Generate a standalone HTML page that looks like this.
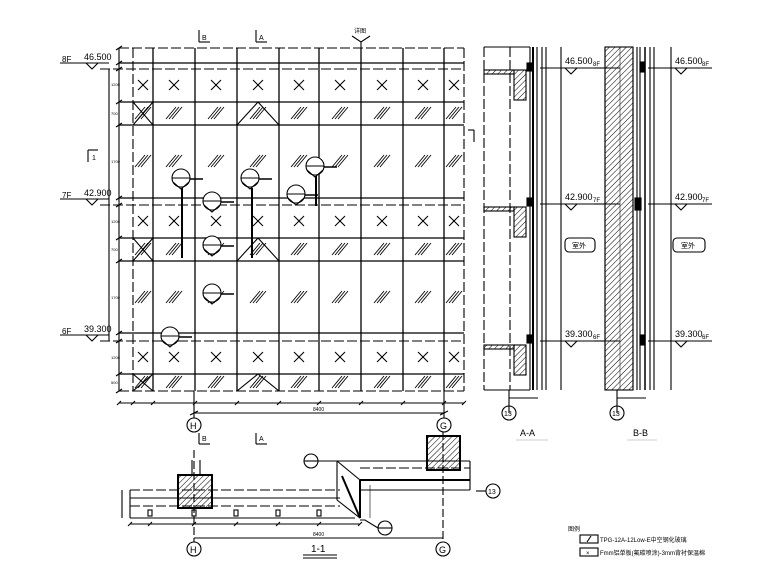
<!DOCTYPE html>
<html><head><meta charset="utf-8"><style>
html,body{margin:0;padding:0;background:#fff;}
svg{display:block;}
text{font-family:"Liberation Sans","Noto Sans CJK SC",sans-serif;fill:#000;}
</style></head><body>
<svg id="s" width="780" height="586" viewBox="0 0 780 586" xmlns="http://www.w3.org/2000/svg" stroke="#000" fill="none" stroke-width="1.1">
<defs>
<pattern id="h" width="4" height="4" patternUnits="userSpaceOnUse" patternTransform="rotate(45)"><line x1="0" y1="0" x2="0" y2="4" stroke="#000" stroke-width="1"/></pattern>
</defs>
<g id="main">
<line x1="119" y1="48" x2="464" y2="48" stroke-dasharray="10,3"/>
<line x1="133" y1="48" x2="133" y2="391" stroke-dasharray="10,3"/>
<line x1="464" y1="48" x2="464" y2="391" stroke-dasharray="10,3"/>
<line x1="119" y1="48" x2="119" y2="391"/>
<line x1="109" y1="69" x2="109" y2="341"/>
<g stroke-dasharray="10,3">
<line x1="100" y1="69" x2="464" y2="69"/>
<line x1="100" y1="205" x2="464" y2="205"/>
<line x1="100" y1="341" x2="464" y2="341"/>
<line x1="119" y1="391" x2="464" y2="391"/>
</g>
</g>
<g id="dyn"></g>
<g>
<line x1="60" y1="63" x2="109" y2="63"/><path d="M86 63 L92 69 L98 63"/>
<line x1="60" y1="199" x2="109" y2="199"/><path d="M86 199 L92 205 L98 199"/>
<line x1="60" y1="335" x2="109" y2="335"/><path d="M86 335 L92 341 L98 335"/>
</g>
<g font-size="8" stroke="none">
<text x="62" y="62">8F</text><text x="84" y="60" font-size="9">46.500</text>
<text x="62" y="198">7F</text><text x="84" y="196" font-size="9">42.900</text>
<text x="62" y="334">6F</text><text x="84" y="332" font-size="9">39.300</text>
</g>
<g font-size="4" stroke="none">
<text x="111" y="86">1200</text><text x="111" y="115">700</text><text x="111" y="163">1700</text>
<text x="111" y="223">1200</text><text x="111" y="251">700</text><text x="111" y="299">1700</text>
<text x="111" y="359">1200</text><text x="111" y="384">500</text>
</g>
<line x1="199" y1="30" x2="199" y2="42"/><line x1="199" y1="42" x2="210" y2="42"/>
<text x="202" y="40" font-size="7" stroke="none">B</text>
<line x1="256" y1="30" x2="256" y2="42"/><line x1="256" y1="42" x2="267" y2="42"/>
<text x="259" y="40" font-size="7" stroke="none">A</text>
<path d="M352 36 L361 42 L370 36"/><line x1="361" y1="42" x2="361" y2="48"/>
<text x="354" y="33" font-size="6" stroke="none">详图</text>
<line x1="88" y1="150" x2="88" y2="162"/><line x1="88" y1="150" x2="98" y2="150"/>
<text x="92" y="160" font-size="7" stroke="none">1</text>
<line x1="474" y1="130" x2="474" y2="142"/><line x1="468" y1="130" x2="474" y2="130"/>
<g id="call"></g>
<g stroke-width="2">
<line x1="182" y1="188" x2="182" y2="258"/>
<line x1="252" y1="188" x2="252" y2="258"/>
<line x1="316" y1="176" x2="316" y2="206"/>
</g>
<line x1="119" y1="403" x2="464" y2="403"/>
<line x1="194" y1="413" x2="444" y2="413"/>
<line x1="194" y1="391" x2="194" y2="418"/>
<line x1="444" y1="391" x2="444" y2="418"/>
<circle cx="194" cy="425" r="7"/><text x="190" y="429" font-size="9" stroke="none">H</text>
<circle cx="444" cy="425" r="7"/><text x="440" y="429" font-size="9" stroke="none">G</text>
<text x="313" y="411" font-size="5" stroke="none">8400</text>
<line x1="199" y1="433" x2="199" y2="444"/><line x1="199" y1="444" x2="210" y2="444"/>
<text x="202" y="441" font-size="7" stroke="none">B</text>
<line x1="256" y1="433" x2="256" y2="444"/><line x1="256" y1="444" x2="267" y2="444"/>
<text x="259" y="441" font-size="7" stroke="none">A</text>

<g>
<line x1="484" y1="47" x2="484" y2="390" stroke-dasharray="10,3"/>
<line x1="510" y1="47" x2="510" y2="390" stroke-dasharray="10,3"/>
<line x1="484" y1="47" x2="530" y2="47"/>
<line x1="484" y1="390" x2="530" y2="390"/>
<rect x="514" y="70" width="12" height="30" fill="url(#h)"/>
<rect x="484" y="70" width="30" height="4" fill="url(#h)"/>
<rect x="514" y="207" width="12" height="30" fill="url(#h)"/>
<rect x="484" y="207" width="30" height="4" fill="url(#h)"/>
<rect x="514" y="345" width="12" height="30" fill="url(#h)"/>
<rect x="484" y="345" width="30" height="4" fill="url(#h)"/>
<line x1="530" y1="47" x2="530" y2="390"/>
<line x1="533" y1="47" x2="533" y2="390" stroke-width="2"/>
<line x1="537" y1="47" x2="537" y2="390"/>
<rect x="527" y="63" width="6" height="8" fill="#000"/>
<rect x="527" y="198" width="6" height="8" fill="#000"/>
<rect x="527" y="335" width="6" height="8" fill="#000"/>
<line x1="542" y1="47" x2="542" y2="390"/>
<line x1="546" y1="47" x2="546" y2="390"/>
<line x1="561" y1="47" x2="561" y2="390"/>
<line x1="509" y1="413" x2="509" y2="390"/>
<line x1="509" y1="398" x2="538" y2="398"/>
<circle cx="509" cy="413" r="7"/><text x="504" y="416" font-size="7" stroke="none">13</text>
<text x="520" y="436" font-size="9" stroke="none">A-A</text>
<line x1="516" y1="440" x2="548" y2="440" stroke="#ccc"/>
<line x1="540" y1="68" x2="620" y2="68"/>
<line x1="540" y1="204" x2="620" y2="204"/>
<line x1="540" y1="341" x2="620" y2="341"/>
<path d="M565 68 L571 74 L577 68"/><path d="M565 204 L571 210 L577 204"/><path d="M565 341 L571 347 L577 341"/>
<text x="565" y="64" font-size="9" stroke="none">46.500</text><text x="593" y="66" font-size="6" stroke="none">8F</text>
<text x="565" y="200" font-size="9" stroke="none">42.900</text><text x="593" y="202" font-size="6" stroke="none">7F</text>
<text x="565" y="337" font-size="9" stroke="none">39.300</text><text x="593" y="339" font-size="6" stroke="none">6F</text>
<rect x="565" y="238" width="30" height="14" rx="4"/>
<text x="572" y="248" font-size="7" stroke="none">室外</text>
</g>

<g>
<rect x="605" y="47" width="28" height="343" fill="url(#h)"/>
<line x1="605" y1="47" x2="605" y2="390"/>
<line x1="633" y1="47" x2="633" y2="390"/>
<line x1="620" y1="47" x2="620" y2="390" stroke-width="0.5"/>
<line x1="637" y1="47" x2="637" y2="390"/>
<line x1="640" y1="47" x2="640" y2="390"/>
<line x1="645" y1="47" x2="645" y2="390" stroke-width="1.5"/>
<rect x="640" y="62" width="5" height="10" fill="#000"/>
<rect x="635" y="198" width="6" height="12" fill="#000"/>
<rect x="640" y="335" width="5" height="10" fill="#000"/>
<line x1="650" y1="47" x2="650" y2="390"/>
<line x1="654" y1="47" x2="654" y2="390"/>
<line x1="671" y1="47" x2="671" y2="390"/>
<line x1="617" y1="413" x2="617" y2="390"/>
<line x1="617" y1="398" x2="646" y2="398"/>
<circle cx="617" cy="413" r="7"/><text x="612" y="416" font-size="7" stroke="none">13</text>
<text x="633" y="436" font-size="9" stroke="none">B-B</text>
<line x1="627" y1="440" x2="657" y2="440" stroke="#ccc"/>
<line x1="594" y1="68" x2="604" y2="68"/><line x1="648" y1="68" x2="712" y2="68"/>
<line x1="594" y1="204" x2="604" y2="204"/><line x1="648" y1="204" x2="712" y2="204"/>
<line x1="594" y1="341" x2="604" y2="341"/><line x1="648" y1="341" x2="712" y2="341"/>
<path d="M675 68 L681 74 L687 68"/><path d="M675 204 L681 210 L687 204"/><path d="M675 341 L681 347 L687 341"/>
<text x="675" y="64" font-size="9" stroke="none">46.500</text><text x="702" y="66" font-size="6" stroke="none">8F</text>
<text x="675" y="200" font-size="9" stroke="none">42.900</text><text x="702" y="202" font-size="6" stroke="none">7F</text>
<text x="675" y="337" font-size="9" stroke="none">39.300</text><text x="702" y="339" font-size="6" stroke="none">6F</text>
<rect x="673" y="238" width="32" height="14" rx="4"/>
<text x="681" y="248" font-size="7" stroke="none">室外</text>
</g>

<g>
<line x1="130" y1="490" x2="340" y2="490" stroke-dasharray="10,3"/>
<line x1="130" y1="498" x2="340" y2="498"/>
<line x1="130" y1="506" x2="340" y2="506" stroke-dasharray="10,3"/>
<line x1="130" y1="518" x2="355" y2="518"/>
<line x1="130" y1="490" x2="130" y2="518"/>
<line x1="122" y1="490" x2="122" y2="518"/>
<rect x="178" y="475" width="34" height="33" fill="url(#h)" stroke-width="2"/>
<line x1="192" y1="460" x2="192" y2="475"/><line x1="200" y1="460" x2="200" y2="475"/>
<line x1="194" y1="450" x2="194" y2="549" stroke-dasharray="8,3"/>
<rect x="427" y="436" width="33" height="34" fill="url(#h)" stroke-width="2"/>
<line x1="443" y1="432" x2="443" y2="549" stroke-dasharray="8,3"/>
<line x1="337" y1="461" x2="470" y2="461"/>
<line x1="360" y1="468" x2="470" y2="468" stroke-dasharray="10,3"/>
<line x1="360" y1="480" x2="470" y2="480" stroke-width="2"/>
<line x1="360" y1="490" x2="470" y2="490"/>
<line x1="360" y1="480" x2="360" y2="518" stroke-width="2"/>
<line x1="337" y1="461" x2="360" y2="480"/>
<line x1="337" y1="461" x2="337" y2="500"/>
<line x1="342" y1="476" x2="360" y2="518" stroke-width="2"/>
<line x1="337" y1="500" x2="360" y2="518"/>
<line x1="470" y1="461" x2="470" y2="490"/>
<line x1="476" y1="491" x2="486" y2="491"/>
<circle cx="493" cy="491" r="7"/><text x="488" y="494" font-size="7" stroke="none">13</text>
<circle cx="311" cy="461" r="7"/><line x1="304" y1="461" x2="318" y2="461"/><line x1="318" y1="461" x2="337" y2="461"/>
<circle cx="385" cy="528" r="7"/><line x1="378" y1="528" x2="392" y2="528"/><path d="M378 528 L365 520 L360 520"/>
<line x1="130" y1="524" x2="360" y2="524"/>
<line x1="194" y1="538" x2="443" y2="538"/>
<line x1="370" y1="485" x2="370" y2="518" stroke-width="0.6"/>
<circle cx="194" cy="549" r="7" fill="#fff"/><text x="190" y="553" font-size="9" stroke="none">H</text>
<circle cx="443" cy="549" r="7" fill="#fff"/><text x="439" y="553" font-size="9" stroke="none">G</text>
<text x="311" y="552" font-size="10" stroke="none">1-1</text>
<line x1="303" y1="555" x2="337" y2="555"/><line x1="303" y1="558" x2="337" y2="558"/>
<text x="313" y="536" font-size="5" stroke="none">8400</text>
</g>

<text x="568" y="531" font-size="6" stroke="none">图例</text>
<rect x="580" y="535" width="18" height="8"/><line x1="587" y1="542" x2="591" y2="536"/>
<text x="600" y="542" font-size="6" stroke="none">TPG-12A-12Low-E中空钢化玻璃</text>
<rect x="580" y="548" width="18" height="8"/><text x="586" y="555" font-size="6" stroke="none">×</text>
<text x="600" y="555" font-size="6" stroke="none">Fmm铝单板(氟碳喷涂)-3mm背衬保温棉</text>
</svg>
<script>
(function(){
var g=document.getElementById('dyn'),s='';
function L(a,b,c,d,w){s+='<line x1="'+a+'" y1="'+b+'" x2="'+c+'" y2="'+d+'"'+(w?' stroke-width="'+w+'"':'')+'/>';}
var xs=[153,195,237,279,319,361,403,444];
xs.forEach(function(x){L(x,48,x,391,1.3);});
[63,102,125,198,238,261,333,374].forEach(function(y){L(119,y,464,y,1.3);});
var cx=[143,174,216,258,299,340,382,423,454];
[85,221,357].forEach(function(y){cx.forEach(function(x){L(x-5,y-5,x+5,y+5);L(x-5,y+5,x+5,y-5);});});
[113,161,249,297,382].forEach(function(y){cx.forEach(function(x){for(var k=-3;k<=3;k+=3){L(x-5+k,y+6,x+5+k,y-6,0.9);}});});
[[102,125],[238,261],[374,391]].forEach(function(r){L(237,r[1],258,r[0]);L(258,r[0],279,r[1]);L(133,r[0],153,r[1]);L(133,r[1],153,r[0]);});
[48,63,69,102,125,198,205,238,261,333,341,374,391].forEach(function(y){L(116,y+2,122,y-2);});
[119,133,153,195,237,279,319,361,403,444,464].forEach(function(x){L(x-2,405,x+2,401);});
L(190,415,198,411);L(440,415,448,411);
[130,150,194,236,278,319,360].forEach(function(x){L(x-2,526,x+2,522);});
[150,194,236,278,319].forEach(function(x){s+='<rect x="'+(x-2)+'" y="510" width="4" height="6"/>';});
g.innerHTML=s;
var c='';
[[181,178],[250,178],[315,166],[296,194],[212,201],[212,245],[212,293],[170,336]].forEach(function(p){
var x=p[0],y=p[1];
c+='<circle cx="'+x+'" cy="'+y+'" r="9" fill="#fff"/><line x1="'+(x-9)+'" y1="'+y+'" x2="'+(x+9)+'" y2="'+y+'"/><path d="M'+(x-8)+' '+(y+4)+' L'+x+' '+(y+11)+' L'+(x+8)+' '+(y+4)+'"/><line x1="'+(x+9)+'" y1="'+(y+1)+'" x2="'+(x+22)+'" y2="'+(y+1)+'" stroke-width="1.5"/>';
});
document.getElementById('call').innerHTML=c;
})();
</script>
</body></html>
